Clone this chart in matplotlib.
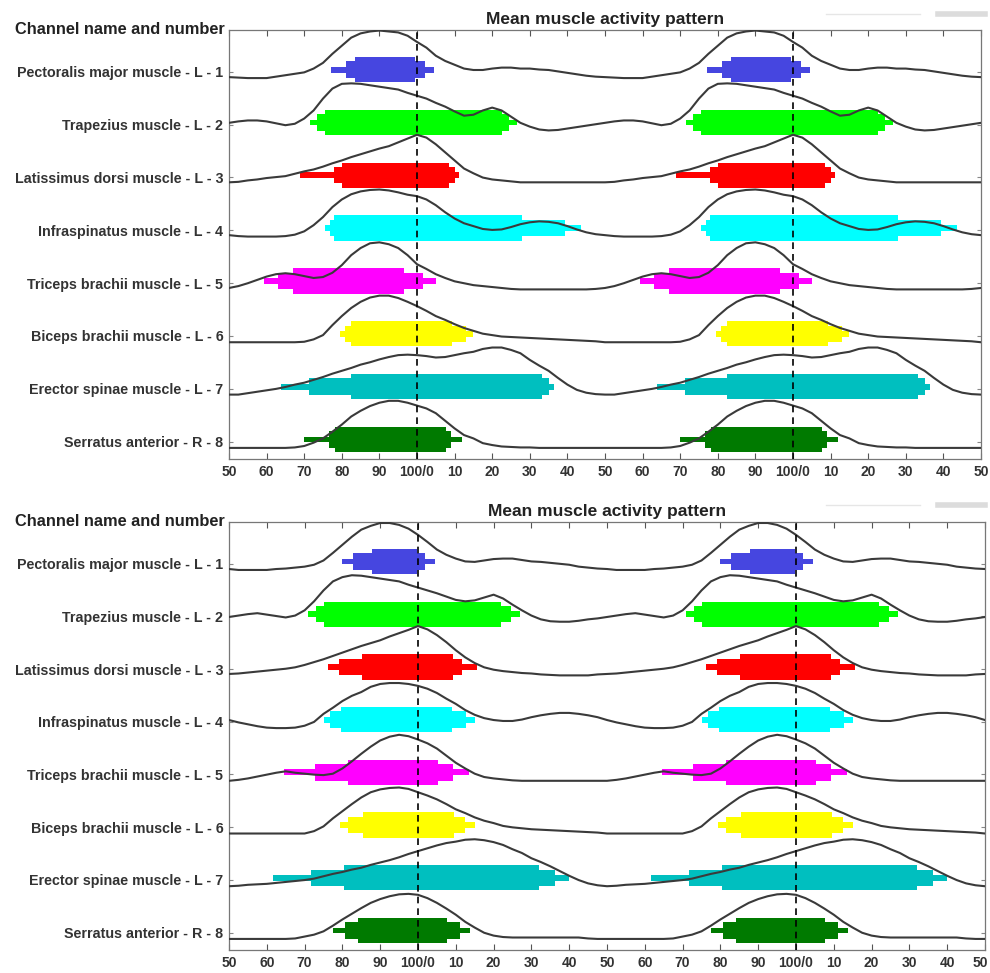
import numpy as np
import matplotlib
matplotlib.use("Agg")
import matplotlib.pyplot as plt
from matplotlib.lines import Line2D
from matplotlib.transforms import ScaledTranslation

plt.rcParams["font.family"] = ["Liberation Sans", "DejaVu Sans"]

## DATA ##

channels = [
    "Pectoralis major muscle - L - 1",
    "Trapezius muscle - L - 2",
    "Latissimus dorsi muscle - L - 3",
    "Infraspinatus muscle - L - 4",
    "Triceps brachii muscle - L - 5",
    "Biceps brachii muscle - L - 6",
    "Erector spinae muscle - L - 7",
    "Serratus anterior - R - 8",
]
colors = ["#4646e0", "#00ff00", "#ff0000", "#00ffff",
          "#ff00ff", "#ffff00", "#00bfbf", "#007a00"]

# cycle position in %, one sample every 2.5 %
cycle_pct = [i * 2.5 for i in range(40)]

# normalised mean activity (0..1), upper figure
upper_activity = [
    # pectoralis major
    [0.76, 0.64, 0.47, 0.36, 0.28, 0.20, 0.17, 0.17, 0.20, 0.22,
     0.22, 0.20, 0.20, 0.18, 0.17, 0.14, 0.11, 0.08, 0.05, 0.03,
     0.02, 0.01, 0.00, 0.00, 0.00, 0.03, 0.06, 0.09, 0.12, 0.20,
     0.32, 0.51, 0.68, 0.85, 0.94, 0.98, 1.00, 0.98, 0.96, 0.89],
    # trapezius
    [0.74, 0.68, 0.59, 0.51, 0.41, 0.32, 0.34, 0.43, 0.49, 0.43,
     0.30, 0.17, 0.09, 0.03, 0.01, 0.02, 0.05, 0.08, 0.11, 0.14,
     0.17, 0.20, 0.22, 0.22, 0.20, 0.16, 0.12, 0.15, 0.26, 0.43,
     0.68, 0.89, 0.99, 1.00, 0.99, 0.96, 0.93, 0.90, 0.87, 0.80],
    # latissimus dorsi
    [1.03, 0.97, 0.83, 0.66, 0.49, 0.32, 0.22, 0.13, 0.09, 0.07,
     0.05, 0.03, 0.03, 0.03, 0.03, 0.03, 0.03, 0.03, 0.03, 0.03,
     0.03, 0.04, 0.07, 0.09, 0.12, 0.14, 0.16, 0.21, 0.26, 0.30,
     0.36, 0.43, 0.49, 0.56, 0.62, 0.68, 0.74, 0.79, 0.87, 0.95],
    # infraspinatus
    [0.85, 0.78, 0.66, 0.51, 0.38, 0.28, 0.22, 0.16, 0.14, 0.15,
     0.20, 0.26, 0.30, 0.32, 0.31, 0.28, 0.22, 0.15, 0.09, 0.05,
     0.03, 0.01, 0.00, 0.00, 0.00, 0.00, 0.01, 0.04, 0.11, 0.24,
     0.41, 0.62, 0.78, 0.89, 0.95, 0.98, 0.99, 0.97, 0.93, 0.88],
    # triceps brachii
    [0.53, 0.43, 0.32, 0.24, 0.17, 0.13, 0.09, 0.07, 0.05, 0.03,
     0.01, 0.00, 0.00, 0.00, 0.00, 0.00, 0.00, 0.00, 0.00, 0.01,
     0.03, 0.07, 0.13, 0.20, 0.27, 0.32, 0.34, 0.32, 0.28, 0.24,
     0.26, 0.35, 0.51, 0.72, 0.87, 0.97, 0.99, 0.95, 0.87, 0.72],
    # biceps brachii
    [0.76, 0.66, 0.55, 0.47, 0.38, 0.30, 0.24, 0.18, 0.15, 0.12,
     0.11, 0.10, 0.09, 0.08, 0.07, 0.06, 0.05, 0.04, 0.03, 0.02,
     0.00, 0.00, 0.00, 0.00, 0.00, 0.00, 0.00, 0.00, 0.01, 0.06,
     0.15, 0.36, 0.55, 0.72, 0.85, 0.94, 0.98, 0.98, 0.93, 0.85],
    # erector spinae
    [0.84, 0.82, 0.79, 0.80, 0.84, 0.88, 0.91, 0.97, 1.00, 1.00,
     0.95, 0.88, 0.74, 0.62, 0.51, 0.36, 0.22, 0.11, 0.05, 0.02,
     0.01, 0.01, 0.04, 0.07, 0.10, 0.13, 0.17, 0.22, 0.26, 0.32,
     0.38, 0.45, 0.51, 0.57, 0.64, 0.69, 0.75, 0.80, 0.84, 0.85],
    # serratus anterior
    [0.89, 0.83, 0.73, 0.57, 0.41, 0.27, 0.20, 0.10, 0.06, 0.03,
     0.02, 0.01, 0.01, 0.00, 0.00, 0.00, 0.00, 0.00, 0.00, 0.00,
     0.00, 0.00, 0.00, 0.00, 0.00, 0.00, 0.00, 0.01, 0.04, 0.11,
     0.20, 0.34, 0.49, 0.66, 0.78, 0.88, 0.95, 0.99, 0.99, 0.95],
]

# normalised mean activity (0..1), lower figure
lower_activity = [
    [0.74, 0.59, 0.43, 0.32, 0.24, 0.18, 0.17, 0.20, 0.23, 0.24,
     0.24, 0.21, 0.18, 0.17, 0.15, 0.13, 0.11, 0.07, 0.05, 0.03,
     0.02, 0.00, 0.00, 0.00, 0.00, 0.02, 0.03, 0.05, 0.07, 0.11,
     0.20, 0.36, 0.53, 0.70, 0.85, 0.93, 0.99, 0.99, 0.95, 0.87],
    [0.74, 0.68, 0.62, 0.55, 0.48, 0.45, 0.47, 0.53, 0.59, 0.51,
     0.38, 0.26, 0.15, 0.07, 0.03, 0.02, 0.02, 0.04, 0.07, 0.09,
     0.12, 0.15, 0.18, 0.20, 0.17, 0.14, 0.11, 0.15, 0.26, 0.45,
     0.68, 0.87, 0.96, 1.00, 0.99, 0.96, 0.93, 0.90, 0.87, 0.80],
    [1.04, 0.97, 0.85, 0.70, 0.53, 0.38, 0.26, 0.17, 0.12, 0.09,
     0.07, 0.05, 0.04, 0.02, 0.01, 0.00, 0.00, 0.00, 0.00, 0.02,
     0.03, 0.04, 0.06, 0.08, 0.10, 0.12, 0.14, 0.17, 0.22, 0.28,
     0.34, 0.41, 0.48, 0.55, 0.62, 0.68, 0.74, 0.82, 0.89, 0.96],
    [0.89, 0.83, 0.74, 0.62, 0.51, 0.38, 0.28, 0.21, 0.17, 0.15,
     0.15, 0.18, 0.23, 0.27, 0.30, 0.32, 0.32, 0.30, 0.27, 0.23,
     0.17, 0.12, 0.08, 0.04, 0.01, 0.00, 0.00, 0.01, 0.05, 0.13,
     0.30, 0.43, 0.57, 0.68, 0.76, 0.87, 0.93, 0.95, 0.95, 0.93],
    [0.87, 0.79, 0.68, 0.53, 0.38, 0.26, 0.15, 0.08, 0.05, 0.03,
     0.01, 0.00, 0.00, 0.00, 0.00, 0.00, 0.00, 0.00, 0.00, 0.00,
     0.00, 0.02, 0.05, 0.09, 0.13, 0.17, 0.20, 0.17, 0.15, 0.13,
     0.12, 0.15, 0.26, 0.41, 0.57, 0.72, 0.85, 0.93, 0.97, 0.94],
    [0.87, 0.80, 0.72, 0.62, 0.51, 0.43, 0.34, 0.27, 0.22, 0.16,
     0.13, 0.11, 0.09, 0.08, 0.07, 0.06, 0.05, 0.04, 0.03, 0.02,
     0.00, 0.00, 0.00, 0.00, 0.00, 0.00, 0.00, 0.00, 0.00, 0.05,
     0.15, 0.32, 0.47, 0.62, 0.76, 0.87, 0.93, 0.96, 0.97, 0.94],
    [0.74, 0.80, 0.86, 0.91, 0.94, 0.98, 0.99, 0.97, 0.93, 0.87,
     0.78, 0.70, 0.59, 0.51, 0.42, 0.32, 0.22, 0.13, 0.06, 0.02,
     0.00, 0.01, 0.03, 0.04, 0.05, 0.07, 0.09, 0.11, 0.13, 0.16,
     0.21, 0.26, 0.30, 0.35, 0.39, 0.45, 0.50, 0.55, 0.61, 0.68],
    [0.93, 0.86, 0.76, 0.64, 0.51, 0.36, 0.24, 0.13, 0.07, 0.04,
     0.03, 0.03, 0.03, 0.03, 0.03, 0.03, 0.03, 0.03, 0.01, 0.00,
     0.00, 0.00, 0.00, 0.00, 0.00, 0.00, 0.00, 0.01, 0.05, 0.09,
     0.16, 0.28, 0.41, 0.53, 0.65, 0.76, 0.84, 0.90, 0.94, 0.95],
]

# activation intervals (start %, end %), end > 100 wraps into next cycle
upper_thin = [(77, 104.5), (71.5, 126.5), (68.8, 111.2), (75.5, 143.5),
              (59.3, 105), (79.6, 114.8), (63.8, 136.5), (70, 112)]
upper_med = [(81, 102), (73.5, 124.5), (77.8, 110), (76.8, 139.3),
             (63, 101.5), (80.8, 113), (71.2, 135.2), (76.5, 109)]
upper_thick = [(83.5, 99.5), (75.5, 122.5), (80, 108.5), (78, 128),
               (67, 96.5), (82.5, 109.3), (82.5, 133.3), (78.3, 107.8)]

lower_thin = [(80, 104.6), (70.8, 127.1), (76.2, 115.5), (75.1, 115),
              (64.5, 113.6), (79.4, 115), (61.6, 140), (77.5, 113.8)]
lower_med = [(82.7, 101.8), (72.9, 124.5), (79.1, 111.6), (76.6, 112.7),
             (72.8, 109.3), (81.6, 112.4), (71.6, 136.2), (80.7, 111)]
lower_thick = [(87.7, 99.8), (75.1, 122), (85.1, 109.3), (79.6, 108.9),
               (81.5, 105.2), (85.5, 109.4), (80.3, 132), (84.1, 107.8)]

# x axis runs from 50 % of one cycle to 50 % of the cycle after next
xticks = list(range(50, 251, 10))
xlabels = ["100/0" if t % 100 == 0 else str(t % 100) for t in xticks]
xlabels[-1] = "50"


## PLOT STUFF ##

def drawPanel(ax, activity, thin, med, thick):
    rows = np.arange(1, len(channels) + 1)
    pct = np.array(cycle_pct, dtype=float)

    for i, row in enumerate(rows):
        # bars: thin outer range, then medium, then the thick core
        for intervals, h in ((thin, 0.11), (med, 0.31), (thick, 0.48)):
            start, end = intervals[i]
            for shift in (0, 100, 200):
                ax.barh(row - 0.04, end - start, left=start + shift, height=h,
                        color=colors[i], linewidth=0, zorder=2)

        # the same mean cycle shown twice
        vals = np.array(activity[i])
        xs = np.concatenate([pct + k * 100 for k in range(3)] + [[300]])
        ys = np.concatenate([vals] * 3 + [vals[:1]])
        ax.plot(xs, row + 0.12 - 0.9 * ys, color="#3a3a3a", lw=1.5,
                solid_joinstyle="round", zorder=3)

    for x in (100, 200):
        ax.axvline(x, color="black", lw=1.2, ls=(0, (4, 3)), zorder=4)

    ax.set_xlim(50, 250)
    ax.set_ylim(8.33, 0.21)
    ax.set_xticks(xticks)
    ax.set_xticklabels(xlabels, fontsize=10, fontweight="bold", color="#333333")
    ax.set_yticks(rows)
    ax.set_yticklabels(channels, fontsize=10.3, fontweight="bold", color="#333333")
    ax.tick_params(axis="x", direction="in", length=4, top=True, pad=4,
                   color="#555555")
    ax.tick_params(axis="y", direction="in", length=3, right=True, pad=4,
                   color="#888888")
    for s in ax.spines.values():
        s.set_color("#777777")
        s.set_linewidth(0.9)

    ax.set_title("Mean muscle activity pattern", fontsize=12.5,
                 fontweight="bold", color="#222222", pad=4)
    ax.text(-0.005, 1.0, "Channel name and number", transform=ax.transAxes,
            ha="right", va="center", fontsize=11.8, fontweight="bold",
            color="#222222")


fig = plt.figure(figsize=(9.9, 9.73), dpi=100)
ax_top = fig.add_axes([229 / 990, 1 - 459 / 973, (981 - 229) / 990, (459 - 30) / 973])
ax_bot = fig.add_axes([229 / 990, 1 - 950 / 973, (985 - 229) / 990, (950 - 522) / 973])

drawPanel(ax_top, upper_activity, upper_thin, upper_med, upper_thick)
drawPanel(ax_bot, lower_activity, lower_thin, lower_med, lower_thick)

# the last label of the lower axis sits at the picture edge: keep it inside
last = ax_bot.get_xticklabels()[-1]
last.set_horizontalalignment("right")
last.set_transform(last.get_transform() +
                   ScaledTranslation(0.03, 0, fig.dpi_scale_trans))

# faint leftovers of a cropped legend in the top right corner
for y in (1 - 14 / 973, 1 - 505 / 973):
    fig.add_artist(Line2D([826 / 990, 920 / 990], [y, y], color="#e6e6e6", lw=1))
    fig.add_artist(Line2D([938 / 990, 985 / 990], [y, y], color="#dcdcdc", lw=4))

fig.savefig("out.png", dpi=100)
